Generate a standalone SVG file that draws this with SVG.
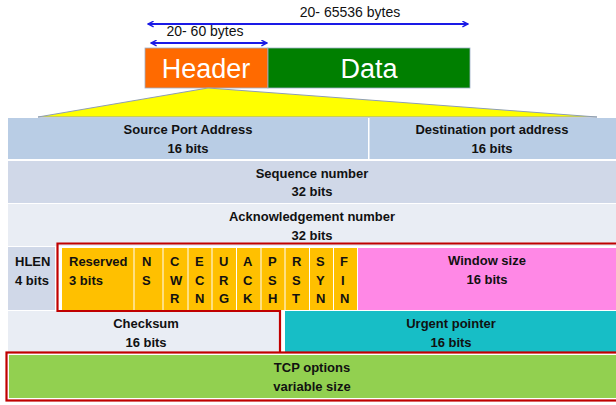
<svg xmlns="http://www.w3.org/2000/svg" width="616" height="405" viewBox="0 0 616 405">
<defs>
<marker id="ah" viewBox="0 0 10 10" refX="9" refY="5" markerWidth="7" markerHeight="7" orient="auto-start-reverse" markerUnits="userSpaceOnUse">
<path d="M1,1 L9,5 L1,9" fill="none" stroke="#1A1AE6" stroke-width="2"/>
</marker>
</defs>
<style>
text{font-family:"Liberation Sans",Arial,sans-serif;}
.b{font-weight:bold;font-size:13px;fill:#111;}
.c{text-anchor:middle;}
.s{font-size:14px;fill:#111;}
.big{font-size:27px;fill:#fff;text-anchor:middle;}
.arr{stroke:#1A1AE6;stroke-width:2;fill:none;}
.red{stroke:#C00000;stroke-width:2.2;fill:none;}
.fl{fill:#FFC000;}
</style>
<rect width="616" height="405" fill="#fff"/>

<g id="connectors">
<line class="arr" x1="148" y1="24" x2="468" y2="24" marker-start="url(#ah)" marker-end="url(#ah)"/>
<line class="arr" x1="151" y1="43" x2="267" y2="43" marker-start="url(#ah)" marker-end="url(#ah)"/>
<text class="s c" x="350" y="17">20- 65536 bytes</text>
<text class="s c" x="205" y="36">20- 60 bytes</text>
</g>

<g id="header">
<rect x="145" y="48" width="123" height="40" fill="#FF6A00" stroke="#9DB0C8" stroke-width="0.8"/>
<text class="big" x="206" y="78">Header</text>
</g>
<g id="data">
<rect x="268" y="48" width="202" height="40" fill="#007F00" stroke="#9DB0C8" stroke-width="0.8"/>
<text class="big" x="369" y="78">Data</text>
</g>

<g id="expand">
<polygon points="208,88 38,117 597,117" fill="#FFFF00" stroke="#8E9EB5" stroke-width="1"/>
</g>

<g id="source-port">
<rect x="8" y="118" width="360" height="41" fill="#B9CDE5"/>
<text class="b c" x="188" y="134">Source Port Address</text>
<text class="b c" x="188" y="153">16 bits</text>
</g>
<g id="dest-port">
<rect x="369.5" y="118" width="246.5" height="41" fill="#B9CDE5"/>
<text class="b c" x="492" y="134">Destination port address</text>
<text class="b c" x="492" y="153">16 bits</text>
</g>

<g id="sequence">
<rect x="8" y="161" width="608" height="42" fill="#D0D8E8"/>
<text class="b c" x="312" y="178">Sequence number</text>
<text class="b c" x="312" y="196">32 bits</text>
</g>

<g id="ack">
<rect x="8" y="204" width="608" height="42" fill="#E9EDF4"/>
<text class="b c" x="312" y="221">Acknowledgement number</text>
<text class="b c" x="312" y="240">32 bits</text>
</g>

<g id="hlen">
<rect x="8" y="247" width="47" height="63" fill="#D0D8E8"/>
<text class="b" x="15" y="266">HLEN</text>
<text class="b" x="15" y="285">4 bits</text>
</g>

<g id="reserved">
<rect class="fl" x="62" y="248" width="71.5" height="62"/>
<text class="b" x="69" y="266">Reserved</text>
<text class="b" x="69" y="285">3 bits</text>
</g>
<g id="flag-ns">
<rect class="fl" x="134.5" y="248" width="28" height="62"/>
<text class="b" x="142" y="266">N</text><text class="b" x="142" y="285">S</text>
</g>
<g id="flag-cwr">
<rect class="fl" x="163.5" y="248" width="24" height="62"/>
<text class="b" x="170" y="266">C</text><text class="b" x="170" y="285">W</text><text class="b" x="170" y="303">R</text>
</g>
<g id="flag-ecn">
<rect class="fl" x="188.5" y="248" width="23" height="62"/>
<text class="b" x="195" y="266">E</text><text class="b" x="195" y="285">C</text><text class="b" x="195" y="303">N</text>
</g>
<g id="flag-urg">
<rect class="fl" x="212.5" y="248" width="23.5" height="62"/>
<text class="b" x="219" y="266">U</text><text class="b" x="219" y="285">R</text><text class="b" x="219" y="303">G</text>
</g>
<g id="flag-ack">
<rect class="fl" x="237" y="248" width="23.5" height="62"/>
<text class="b" x="243" y="266">A</text><text class="b" x="243" y="285">C</text><text class="b" x="243" y="303">K</text>
</g>
<g id="flag-psh">
<rect class="fl" x="261.5" y="248" width="23" height="62"/>
<text class="b" x="268" y="266">P</text><text class="b" x="268" y="285">S</text><text class="b" x="268" y="303">H</text>
</g>
<g id="flag-rst">
<rect class="fl" x="285.5" y="248" width="23.5" height="62"/>
<text class="b" x="292" y="266">R</text><text class="b" x="292" y="285">S</text><text class="b" x="292" y="303">T</text>
</g>
<g id="flag-syn">
<rect class="fl" x="310" y="248" width="23" height="62"/>
<text class="b" x="316" y="266">S</text><text class="b" x="316" y="285">Y</text><text class="b" x="316" y="303">N</text>
</g>
<g id="flag-fin">
<rect class="fl" x="334" y="248" width="23" height="62"/>
<text class="b" x="340" y="266">F</text><text class="b" x="341" y="285">I</text><text class="b" x="340" y="303">N</text>
</g>
<g id="window">
<rect x="358" y="248" width="258" height="62" fill="#FF88E6"/>
<text class="b c" x="487" y="265">Window size</text>
<text class="b c" x="487" y="284">16 bits</text>
</g>

<g id="checksum">
<rect x="8" y="311" width="272" height="41" fill="#E9EDF4"/>
<text class="b c" x="146" y="328">Checksum</text>
<text class="b c" x="146" y="347">16 bits</text>
</g>
<g id="urgent">
<rect x="285" y="311" width="331" height="41" fill="#17BEC6"/>
<text class="b c" x="451" y="328">Urgent pointer</text>
<text class="b c" x="451" y="347">16 bits</text>
</g>

<g id="options">
<rect x="9" y="355" width="607" height="43" fill="#92D050"/>
<text class="b c" x="312" y="372">TCP options</text>
<text class="b c" x="312" y="391">variable size</text>
</g>

<g id="highlight">
<path class="red" d="M620,243.5 H57.5 V311 H280 V352"/>
<rect class="red" x="6.5" y="352.5" width="614" height="48"/>
</g>
</svg>
